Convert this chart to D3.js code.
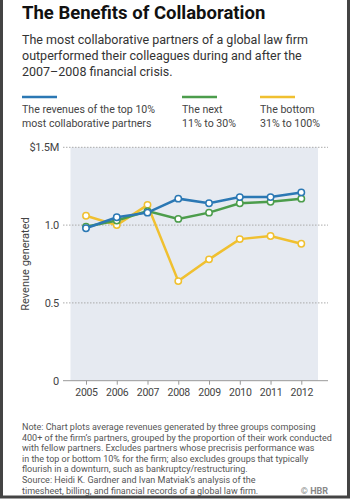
<!DOCTYPE html>
<html>
<head>
<meta charset="utf-8">
<script src="https://cdn.jsdelivr.net/npm/d3@7"></script>
<style>
  body { margin: 0; background: #fff; }
  svg { display: block; font-family: Roboto, "Liberation Sans", sans-serif; }
</style>
</head>
<body>
<svg id="chart"></svg>
<script>
// data
const years = [2005, 2006, 2007, 2008, 2009, 2010, 2011, 2012];
const topTen = [0.98, 1.05, 1.08, 1.17, 1.14, 1.18, 1.18, 1.21];
const nextTwenty = [0.99, 1.03, 1.09, 1.04, 1.08, 1.14, 1.15, 1.17];
const bottomGroup = [1.06, 1.0, 1.13, 0.64, 0.78, 0.91, 0.93, 0.88];
const yTicks = [0, 0.5, 1.0, 1.5];
const yTickLabels = ['0', '0.5', '1.0', '$1.5M'];

const series = [
  {name: 'top', values: topTen, color: '#2b78b4', label: ['The revenues of the top 10%', 'most collaborative partners']},
  {name: 'next', values: nextTwenty, color: '#4c9d4c', label: ['The next', '11% to 30%']},
  {name: 'bottom', values: bottomGroup, color: '#f0c030', label: ['The bottom', '31% to 100%']}
];

const width = 350, height = 500;
const svg = d3.select('#chart').attr('width', width).attr('height', height);

// frame
svg.append('rect')
  .attr('x', 1.5).attr('y', -2)
  .attr('width', width - 3).attr('height', height - 1)
  .attr('fill', 'none').attr('stroke', '#444').attr('stroke-width', 3);

// title + subtitle
svg.append('text')
  .attr('x', 22).attr('y', 19)
  .attr('font-size', 18.5).attr('font-weight', 'bold')
  .attr('fill', '#111')
  .text('The Benefits of Collaboration');

const subtitle = ['The most collaborative partners of a global law firm',
  'outperformed their colleagues during and after the',
  '2007\u20132008 financial crisis.'];
svg.append('text')
  .attr('font-size', 12.5).attr('fill', '#333')
  .selectAll('tspan').data(subtitle).join('tspan')
  .attr('x', 22).attr('y', (d, i) => 44 + i * 16)
  .text(d => d);

// legend
const legendX = [22, 182, 260];
series.forEach(function (s, i) {
  const g = svg.append('g').attr('transform', 'translate(' + legendX[i] + ',0)');
  g.append('line')
    .attr('x1', 0).attr('x2', 35).attr('y1', 97).attr('y2', 97)
    .attr('stroke', s.color).attr('stroke-width', 2.5);
  g.append('text')
    .attr('font-size', 10.6).attr('fill', '#444')
    .selectAll('tspan').data(s.label).join('tspan')
    .attr('x', 0).attr('y', (d, j) => 113 + j * 14)
    .text(d => d);
});

// scales
const x = d3.scalePoint().domain(years).range([86, 301.3]);
const y = d3.scaleLinear().domain([0, 1.5]).range([380.7, 147.3]);

// plot background
svg.append('rect')
  .attr('x', 70.5).attr('y', y(1.5))
  .attr('width', 318 - 70.5).attr('height', y(0) - y(1.5))
  .attr('fill', '#e6eaf1');

// gridlines
svg.append('g')
  .selectAll('line').data(yTicks.filter(d => d > 0)).join('line')
  .attr('x1', 63).attr('x2', 328)
  .attr('y1', d => y(d)).attr('y2', d => y(d))
  .attr('stroke', '#aaa').attr('stroke-width', 1)
  .attr('stroke-dasharray', '1.5,1.5');

// y tick labels
svg.append('g')
  .selectAll('text').data(yTicks).join('text')
  .attr('x', 59).attr('y', d => y(d) + 4)
  .attr('text-anchor', 'end')
  .attr('font-size', 11).attr('fill', '#444')
  .attr('letter-spacing', -0.3)
  .text((d, i) => yTickLabels[i]);

// y axis title
svg.append('text')
  .attr('transform', 'translate(29,' + y(0.75) + ') rotate(-90)')
  .attr('text-anchor', 'middle')
  .attr('font-size', 11).attr('fill', '#444')
  .text('Revenue generated');

// x axis
const xAxis = svg.append('g')
  .attr('transform', 'translate(0,' + y(0) + ')')
  .call(d3.axisBottom(x).tickSize(4).tickPadding(4));
xAxis.select('.domain').remove();
xAxis.selectAll('.tick line').attr('stroke', '#999');
xAxis.selectAll('.tick text')
  .attr('font-size', 10.5).attr('fill', '#444')
  .attr('font-family', 'Roboto, "Liberation Sans", sans-serif')
  .attr('letter-spacing', -0.3);
svg.append('line')
  .attr('x1', 63).attr('x2', 328).attr('y1', y(0)).attr('y2', y(0))
  .attr('stroke', '#999').attr('stroke-width', 1);

// lines + markers (drawn bottom group first so top group sits above)
const line = d3.line()
  .x((d, i) => x(years[i]))
  .y(d => y(d));

[series[2], series[1], series[0]].forEach(function (s) {
  svg.append('path')
    .datum(s.values)
    .attr('fill', 'none')
    .attr('stroke', s.color)
    .attr('stroke-width', 2.5)
    .attr('d', line);
  svg.append('g')
    .selectAll('circle').data(s.values).join('circle')
    .attr('cx', (d, i) => x(years[i]))
    .attr('cy', d => y(d))
    .attr('r', 3.2)
    .attr('fill', '#fff')
    .attr('stroke', s.color)
    .attr('stroke-width', 1.5);
});

// notes
const note = ['Note: Chart plots average revenues generated by three groups composing',
  '400+ of the firm\u2019s partners, grouped by the proportion of their work conducted',
  'with fellow partners. Excludes partners whose precrisis performance was',
  'in the top or bottom 10% for the firm; also excludes groups that typically',
  'flourish in a downturn, such as bankruptcy/restructuring.'];
const source = ['Source: Heidi K. Gardner and Ivan Matviak\u2019s analysis of the',
  'timesheet, billing, and financial records of a global law firm.'];

svg.append('text')
  .attr('font-size', 9).attr('fill', '#555')
  .selectAll('tspan').data(note).join('tspan')
  .attr('x', 22).attr('y', (d, i) => 430 + i * 10.5)
  .text(d => d);
svg.append('text')
  .attr('font-size', 9).attr('fill', '#555')
  .selectAll('tspan').data(source).join('tspan')
  .attr('x', 22).attr('y', (d, i) => 483 + i * 10.5)
  .text(d => d);

svg.append('text')
  .attr('x', 328).attr('y', 494)
  .attr('text-anchor', 'end')
  .attr('font-size', 9).attr('font-weight', 'bold').attr('fill', '#888')
  .text('\u00a9 HBR');
</script>
</body>
</html>
